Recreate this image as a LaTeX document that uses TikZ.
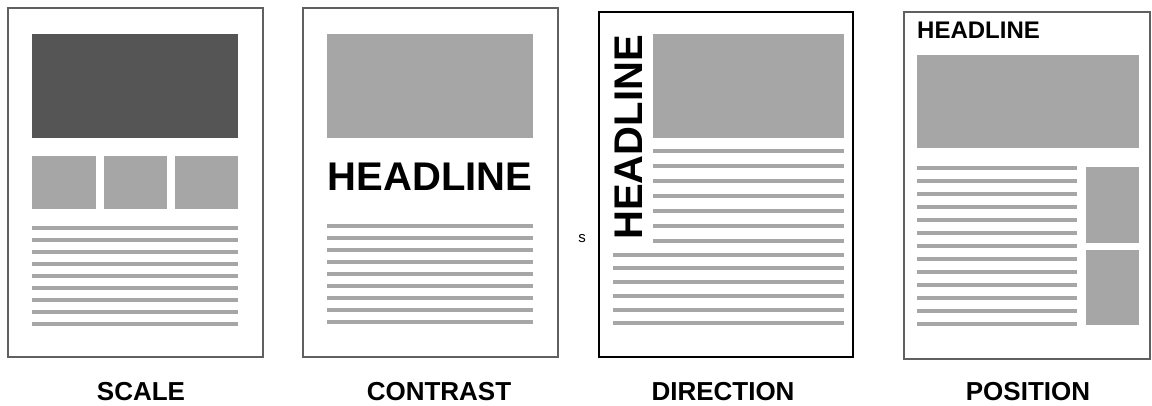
\documentclass[tikz,border=0pt]{standalone}
\usepackage{fontspec}
\setmainfont{Liberation Sans}
\usetikzlibrary{positioning}

\definecolor{blockgray}{HTML}{A6A6A6}
\definecolor{darkgray}{HTML}{555555}
\definecolor{framegray}{HTML}{606060}

\begin{document}
\begin{tikzpicture}[
    x=1pt, y=-1pt,
    frame/.style={draw=framegray, line width=2pt, fill=white},
    blackframe/.style={draw=black, line width=2pt, fill=white},
    darkblock/.style={fill=darkgray},
    block/.style={fill=blockgray},
    textline/.style={draw=blockgray, line width=3.2pt},
    headline/.style={inner sep=0pt, font=\fontsize{40}{40}\selectfont\bfseries},
    smallhead/.style={inner sep=0pt, font=\fontsize{24}{24}\selectfont\bfseries},
    caption/.style={inner sep=0pt, font=\fontsize{26}{26}\selectfont\bfseries}
]
\useasboundingbox (0,0) rectangle (1152,406);

% PANEL 1: Scale
\draw[frame] (8,8) rectangle (263,357);
\fill[darkblock] (32,34) rectangle (238,138);
\fill[block] (32,156) rectangle (96,209);
\fill[block] (104,156) rectangle (167,209);
\fill[block] (175,156) rectangle (238,209);
\foreach \y in {228,240,...,324}
    \draw[textline] (32,\y) -- (238,\y);
\node[caption] (scale) at (141,392) {SCALE};

% PANEL 2: Contrast
\draw[frame] (303,8) rectangle (558,357);
\fill[block] (327,34) rectangle (533,138);
\node[headline, anchor=north] (headtwo) at (430,163) {HEADLINE};
\foreach \y in {226,238,...,322}
    \draw[textline] (327,\y) -- (533,\y);
\node[caption] (contrast) at (439,392) {CONTRAST};

% stray mark between panels
\node[inner sep=0pt, font=\fontsize{15}{15}\selectfont] (smark) at (582,239) {s};

% PANEL 3: Direction
\draw[blackframe] (599,12) rectangle (853,357);
\fill[block] (653,34) rectangle (844,138);
\node[headline, rotate=90, anchor=south] (headthree) at (643,137.5) {HEADLINE};
\foreach \y in {151,166,...,241}
    \draw[textline] (653,\y) -- (844,\y);
\foreach \y in {255,268,282,296,310,323}
    \draw[textline] (613,\y) -- (844,\y);
\node[caption] (direction) at (723,392) {DIRECTION};

% PANEL 4: Position
\draw[frame] (904,12) rectangle (1150,359);
\node[smallhead, anchor=north west] (headfour) at (917,22) {HEADLINE};
\fill[block] (917,55) rectangle (1139,148);
\foreach \y in {168,181,...,324}
    \draw[textline] (917,\y) -- (1077,\y);
\fill[block] (1086,167) rectangle (1139,243);
\fill[block] (1086,250) rectangle (1139,325);
\node[caption] (position) at (1028,392) {POSITION};

\end{tikzpicture}
\end{document}
